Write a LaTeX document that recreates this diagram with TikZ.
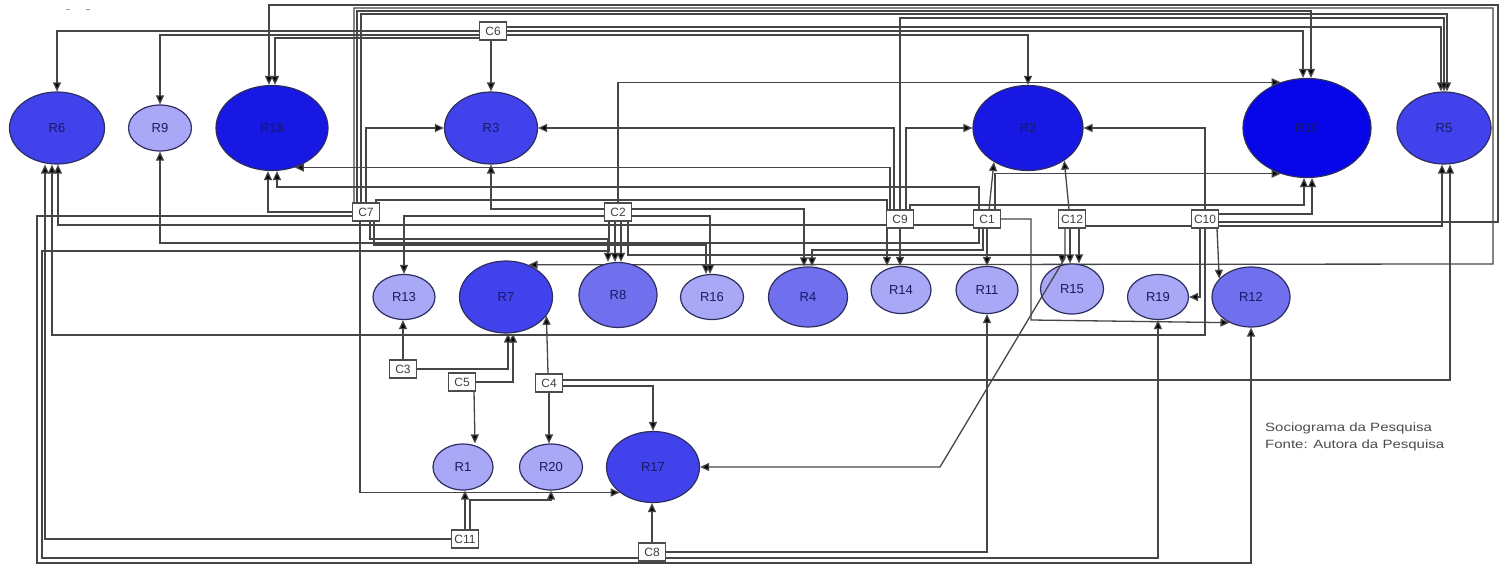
\documentclass[tikz,border=0pt]{standalone}
\usepackage{fontspec}
\usepackage{graphicx}
\setmainfont{Liberation Sans}
\usetikzlibrary{shapes.geometric,arrows.meta}
\pgfdeclarelayer{back}
\pgfdeclarelayer{bg}
\pgfsetlayers{back,bg,main}
\definecolor{cdark}{RGB}{24,24,228}
\definecolor{cdarkest}{RGB}{6,6,232}
\definecolor{cmed}{RGB}{66,66,236}
\definecolor{cml}{RGB}{112,112,238}
\definecolor{clight}{RGB}{168,168,246}
\definecolor{rborder}{RGB}{45,45,95}
\definecolor{rtext}{RGB}{25,25,100}
\definecolor{ecol}{RGB}{70,70,70}
\tikzset{
 rn/.style n args={3}{ellipse, draw=rborder, line width=1.2pt, fill=#1, minimum width=#2, minimum height=#3, inner sep=0pt, text=rtext, font=\fontsize{13}{13}\selectfont},
 cb/.style={rectangle, draw=black!70, line width=1.3pt, fill=white, minimum width=27pt, minimum height=18pt, inner sep=0pt, text=black!75, font=\fontsize{12}{12}\selectfont},
 e/.style={draw=ecol, line width=1.3pt, -{Triangle[length=9pt,width=8pt,fill=black]}},
}
\begin{document}
\begin{tikzpicture}[x=1pt,y=-1pt]
\useasboundingbox (0,0) rectangle (1504,567);
\begin{pgfonlayer}{back}
\fill[white] (0,0) rectangle (1504,567);
\end{pgfonlayer}
\draw[black!40, line width=1pt] (66,10) -- (70,10) (86,10) -- (90,10);
% top row
\node[rn={cmed}{95pt}{72pt}] (R6) at (57,128) {R6};
\node[rn={clight}{63pt}{46pt}] (R9) at (160,128) {R9};
\node[rn={cdark}{112pt}{85pt}] (R18) at (272,128) {R18};
\node[rn={cmed}{93pt}{72pt}] (R3) at (491,128) {R3};
\node[rn={cdark}{110pt}{85pt}] (R2) at (1028,128) {R2};
\node[rn={cdarkest}{128pt}{99pt}] (R10) at (1307,128) {R10};
\node[rn={cmed}{94pt}{72pt}] (R5) at (1444,128) {R5};
% middle row
\node[rn={clight}{62pt}{45pt}] (R13) at (404,297) {R13};
\node[rn={cmed}{93pt}{72pt}] (R7) at (506,297) {R7};
\node[rn={cml}{78pt}{65pt}] (R8) at (618,295) {R8};
\node[rn={clight}{63pt}{45pt}] (R16) at (712,297) {R16};
\node[rn={cml}{79pt}{60pt}] (R4) at (808,297) {R4};
\node[rn={clight}{60pt}{47pt}] (R14) at (901,290) {R14};
\node[rn={clight}{62pt}{47pt}] (R11) at (987,290) {R11};
\node[rn={clight}{63pt}{50pt}] (R15) at (1072,289) {R15};
\node[rn={clight}{61pt}{45pt}] (R19) at (1158,297) {R19};
\node[rn={cml}{78pt}{60pt}] (R12) at (1251,297) {R12};
% bottom row
\node[rn={clight}{60pt}{46pt}] (R1) at (463,467) {R1};
\node[rn={clight}{63pt}{46pt}] (R20) at (551,467) {R20};
\node[rn={cmed}{93pt}{71pt}] (R17) at (653,467) {R17};
% C boxes
\node[cb] (C6) at (493,31) {C6};
\node[cb] (C7) at (366,212) {C7};
\node[cb] (C2) at (618,212) {C2};
\node[cb] (C9) at (900,219) {C9};
\node[cb] (C1) at (987,219) {C1};
\node[cb] (C12) at (1072,219) {C12};
\node[cb] (C10) at (1205,219) {C10};
\node[cb] (C3) at (403,369) {C3};
\node[cb] (C5) at (462,382) {C5};
\node[cb] (C4) at (549,383) {C4};
\node[cb] (C11) at (465,539) {C11};
\node[cb] (C8) at (652,552) {C8};
% caption
\node[anchor=north west, align=left, inner sep=0pt, text=black!70, font=\fontsize{12}{17}\selectfont] (cap) at (1265,423)
 {\scalebox{1.25}[1]{Sociograma da Pesquisa}\\\scalebox{1.25}[1]{Fonte: Autora da Pesquisa}};
% diagonal edge drawn over R15
\draw[e] (C12.south -| 1065,0) -- (1065,258) -- (940,467) -- (R17.east);
\begin{pgfonlayer}{bg}
% C6
\draw[e] (C6.west) -| (R6.north);
\draw[e] (C6.west |- 0,35) -| (R9.north);
\draw[e] (C6.west |- 0,38) -| ([xshift=3pt]R18.north);
\draw[e] (C6.south -| R3.north) -- (R3.north);
\draw[e] (C6.east |- 0,35) -| (R2.north);
\draw[e] (C6.east) -| ([xshift=-4pt]R10.north);
\draw[e] (C6.east |- 0,27) -| ([xshift=-3pt]R5.north);
% C7
\draw[e] (C7.west) -| ([xshift=-4pt]R18.south);
\draw[e] (C7.north) |- (R3.west);
\draw[e] (C7.south -| 360,0) |- (R17.south west);
\draw[e] (C7.west |- 0,216) -- (37,216) -- (37,563) -| (R12.south);
\draw[e] (C7.north -| 354,0) -- (354,8) -- (1493,8) -- (1493,264) -- (R7.55);
\draw[e] (C7.north -| 357,0) |- (1311,11) -- ([xshift=4pt]R10.north);
\draw[e] (C7.north -| 361,0) |- (1447,14) -- ([xshift=3pt]R5.north);
\draw[e] (C7.north -| 376,0) |- (887,200) -- ([xshift=-14pt]R14.north);
\draw[e] (C7.south -| 370,0) |- (608,239) -- ([xshift=-10pt]R8.north);
\draw[e] (C7.south -| 374,0) |- (706,245) -- ([xshift=-6pt]R16.north);
% C2
\draw[e] (C2.north) |- (R10.120);
\draw[e] (C2.west |- 0,209) -| (R3.south);
\draw[e] (C2.west |- 0,216) -| (R13.north);
\draw[e] ([xshift=-3pt]C2.south) -- ([xshift=-3pt]R8.north);
\draw[e] ([xshift=3pt]C2.south) -- ([xshift=3pt]R8.north);
\draw[e] (C2.east |- 0,209) -| ([xshift=-4pt]R4.north);
\draw[e] (C2.east |- 0,216) -| ([xshift=-2pt]R16.north);
\draw[e] (C2.south -| 609,0) |- (42,251) -- (42,558) -| (R19.south);
\draw[e] (C2.south -| 628,0) |- (1062,255) -- ([xshift=-10pt]R15.north);
% C9
\draw[e] (C9.north) |- (1444,18) -- (R5.north);
\draw[e] (C9.north -| 894,0) |- (R3.east);
\draw[e] (C9.north -| 906,0) |- (R2.west);
\draw[e] (C9.north -| 890,0) |- (R18.-60);
\draw[e] (C9.north -| 910,0) |- (1304,205) -- ([xshift=-3pt]R10.south);
\draw[e] (C9.south) -- (C9.south |- R14.north);
% C1
\draw[e] (C1.north -| 989,0) -- (R2.-135);
\draw[e] (C1.north -| 995,0) |- (R10.-120);
\draw[e] (C1.south) -- (R11.north);
\draw[e] (C1.east) -| (1031,320) -- (R12.-130);
\draw[e] (C1.south -| 979,0) |- (160,243) -- (R9.south);
\draw[e] (C1.west |- 0,225) -| ([xshift=1pt]R6.south);
\draw[e] (C1.north -| 979,0) |- (277,187) -- ([xshift=5pt]R18.south);
\draw[e] (C1.south -| 983,0) |- (812,250) -- ([xshift=4pt]R4.north);
% C12
\draw[e] (C12.north -| 1069,0) -- (R2.-42);
\draw[e] (C12.south -| 1070,0) -- (R15.north -| 1070,0);
\draw[e] (C12.south -| 1079,0) -- (R15.north -| 1079,0);
\draw[e] (C12.east |- 0,226) -| ([xshift=-2pt]R5.south);
% C10
\draw[e] (C10.north) |- (R2.east);
\draw[e] (C10.east |- 0,214) -| ([xshift=5pt]R10.south);
\draw[e] (C10.east |- 0,222) -- (1498,222) -- (1498,5) -- (269,5) -- ([xshift=-3pt]R18.north);
\draw[e] (C10.south -| 1200,0) |- (R19.east);
\draw[e] (C10.south -| 1217,0) -- (R12.150);
\draw[e] (C10.south -| 1205,0) |- (52,335) -- ([xshift=-5pt]R6.south);
% C3 C5 C4
\draw[e] (C3.north) -- (C3.north |- R13.south);
\draw[e] (C3.east) -| ([xshift=2pt]R7.south);
\draw[e] (C5.east) -| ([xshift=7pt]R7.south);
\draw[e] ([xshift=12pt]C5.south) -- ([xshift=12pt]R1.north);
\draw[e] (C4.north -| 548,0) -- (R7.-25);
\draw[e] (C4.south) -- (C4.south |- R20.north);
\draw[e] (C4.east |- 0,386) -| (R17.north);
\draw[e] (C4.east |- 0,380) -| ([xshift=6pt]R5.south);
% C11 C8
\draw[e] (C11.north) -- (C11.north |- R1.south);
\draw[e] (C11.north -| 470,0) -- (470,500) -- (551,500) -- (R20.south);
\draw[e] (C11.west) -| ([xshift=-12pt]R6.south);
\draw[e] (C8.north) -- (C8.north |- R17.south);
\draw[e] (C8.east) -| (R11.south);
\end{pgfonlayer}
\end{tikzpicture}
\end{document}
